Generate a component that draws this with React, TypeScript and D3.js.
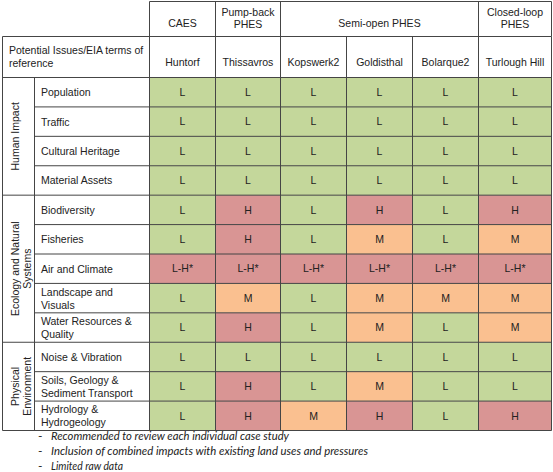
import React from "react";
import * as d3 from "d3";

const sites = ["Huntorf", "Thissavros", "Kopswerk2", "Goldisthal", "Bolarque2", "Turlough Hill"];
const siteWidths = [66, 65, 66, 66, 66, 73];
const types = [
  { lines: ["CAES"], from: 0, to: 0 },
  { lines: ["Pump-back", "PHES"], from: 1, to: 1 },
  { lines: ["Semi-open PHES"], from: 2, to: 4 },
  { lines: ["Closed-loop", "PHES"], from: 5, to: 5 },
];
const groups = [
  { lines: ["Human Impact"], count: 4 },
  { lines: ["Ecology and Natural", "Systems"], count: 5 },
  { lines: ["Physical", "Environment"], count: 3 },
];
const issues = [
  ["Population"],
  ["Traffic"],
  ["Cultural Heritage"],
  ["Material Assets"],
  ["Biodiversity"],
  ["Fisheries"],
  ["Air and Climate"],
  ["Landscape and", "Visuals"],
  ["Water Resources &", "Quality"],
  ["Noise & Vibration"],
  ["Soils, Geology &", "Sediment Transport"],
  ["Hydrology &", "Hydrogeology"],
];
const ratings = [
  ["L", "L", "L", "L", "L", "L"],
  ["L", "L", "L", "L", "L", "L"],
  ["L", "L", "L", "L", "L", "L"],
  ["L", "L", "L", "L", "L", "L"],
  ["L", "H", "L", "H", "L", "H"],
  ["L", "H", "L", "M", "L", "M"],
  ["L-H*", "L-H*", "L-H*", "L-H*", "L-H*", "L-H*"],
  ["L", "M", "L", "M", "M", "M"],
  ["L", "H", "L", "M", "L", "M"],
  ["L", "L", "L", "L", "L", "L"],
  ["L", "H", "L", "M", "L", "L"],
  ["L", "H", "M", "H", "L", "H"],
];
const footnotes = [
  "Recommended to review each individual case study",
  "Inclusion of combined impacts with existing land uses and pressures",
  "Limited raw data",
];
const footWidths = [238, 317, 72];
const headerLabel = ["Potential Issues/EIA terms of", "reference"];

const W = 553;
const H = 472;
const left = 2.5;
const groupRight = 34.5;
const issueRight = 149.5;
const top = 1.5;
const head1 = 36.5;
const head2 = 77.5;
const bottom = 430.5;
const right = 551.5;
const lineColor = "#454545";
const font = "'Liberation Sans', Arial, sans-serif";
const fs = 10.5;

const color = d3
  .scaleOrdinal<string, string>()
  .domain(["L", "M", "H", "L-H*"])
  .range(["#c4d79b", "#fac090", "#d99594", "#d99594"]);

export default function App() {
  const cum = d3.cumsum(siteWidths);
  const xStart = (i: number) => issueRight + (i === 0 ? 0 : cum[i - 1]);
  const xEnd = (i: number) => issueRight + cum[i];
  const y = d3
    .scaleBand<number>()
    .domain(d3.range(issues.length))
    .range([head2, bottom]);
  const rh = y.bandwidth();

  const groupStarts: number[] = [];
  let acc = 0;
  groups.forEach((g) => {
    groupStarts.push(acc);
    acc += g.count;
  });

  const lines: any[] = [];
  const L = (k: string, x1: number, y1: number, x2: number, y2: number) =>
    lines.push(<line key={k} x1={x1} y1={y1} x2={x2} y2={y2} stroke={lineColor} strokeWidth={1} />);

  L("t", issueRight, top, right, top);
  types.forEach((t, i) => {
    L("tv" + i, xStart(t.from), top, xStart(t.from), head1);
  });
  L("tr", right, top, right, head1);
  L("h1", left, head1, right, head1);
  L("h2", left, head2, right, head2);
  L("lb", left, head1, left, bottom);
  L("rb", right, head1, right, bottom);
  L("ir", issueRight, head1, issueRight, bottom);
  sites.forEach((s, i) => {
    if (i > 0) L("sv" + i, xStart(i), head1, xStart(i), bottom);
  });
  L("gr", groupRight, head2, groupRight, bottom);
  issues.forEach((_, i) => {
    if (i === 0) return;
    const isGroupStart = groupStarts.includes(i);
    L("rl" + i, isGroupStart ? left : groupRight, y(i)!, right, y(i)!);
  });
  L("bt", left, bottom, right, bottom);

  return (
    <svg width={W} height={H} style={{ position: "absolute", left: 0, top: 0, display: "block", background: "#fff" }}>
      <rect x={0} y={0} width={W} height={H} fill="#fff" />
      {ratings.map((row, r) =>
        row.map((v, c) => (
          <g key={`c${r}-${c}`}>
            <rect x={xStart(c)} y={y(r)!} width={xEnd(c) - xStart(c)} height={rh} fill={color(v)} />
            <text
              x={(xStart(c) + xEnd(c)) / 2}
              y={y(r)! + rh / 2}
              dy="0.36em"
              textAnchor="middle"
              fontFamily={font}
              fontSize={fs}
              fill="#222"
            >
              {v}
            </text>
          </g>
        ))
      )}
      {lines}
      {types.map((t, i) => {
        const cx = (xStart(t.from) + xEnd(t.to)) / 2;
        return (
          <text key={"ty" + i} textAnchor="middle" fontFamily={font} fontSize={fs} fill="#222">
            {t.lines.map((ln, j) => (
              <tspan key={j} x={cx} y={(t.lines.length === 1 ? 23 : 12 + j * 11.5) + 4}>
                {ln}
              </tspan>
            ))}
          </text>
        );
      })}
      <text fontFamily={font} fontSize={fs} fill="#222">
        {headerLabel.map((ln, j) => (
          <tspan key={j} x={9} y={50 + j * 12.5 + 4}>
            {ln}
          </tspan>
        ))}
      </text>
      {sites.map((s, i) => (
        <text
          key={"s" + i}
          x={(xStart(i) + xEnd(i)) / 2}
          y={62 + 4}
          textAnchor="middle"
          fontFamily={font}
          fontSize={fs}
          fill="#222"
        >
          {s}
        </text>
      ))}
      {issues.map((iss, r) => (
        <text key={"i" + r} fontFamily={font} fontSize={fs} fill="#222">
          {iss.map((ln, j) => (
            <tspan key={j} x={41} y={y(r)! + rh / 2 + (iss.length === 1 ? 0 : -6.5 + j * 13) + 4}>
              {ln}
            </tspan>
          ))}
        </text>
      ))}
      {groups.map((g, i) => {
        const y0 = y(groupStarts[i])!;
        const y1 = y0 + g.count * rh;
        const cy = (y0 + y1) / 2;
        return (
          <g key={"g" + i} transform={`translate(0,${cy}) rotate(-90)`}>
            {g.lines.map((ln, j) => (
              <text
                key={j}
                x={0}
                y={15 + j * 12 + 4}
                textAnchor="middle"
                fontFamily={font}
                fontSize={fs}
                fill="#222"
              >
                {ln}
              </text>
            ))}
          </g>
        );
      })}
      {footnotes.map((f, i) => (
        <g key={"f" + i}>
          <text x={38} y={436 + i * 15 + 4} fontFamily="Lato, sans-serif" fontSize={12} fill="#222">
            -
          </text>
          <text
            x={51}
            y={436 + i * 15 + 4}
            fontFamily="Lato, sans-serif"
            fontStyle="italic"
            fontSize={12}
            fill="#222"
            textLength={footWidths[i]}
            lengthAdjust="spacingAndGlyphs"
          >
            {f}
          </text>
        </g>
      ))}
    </svg>
  );
}
